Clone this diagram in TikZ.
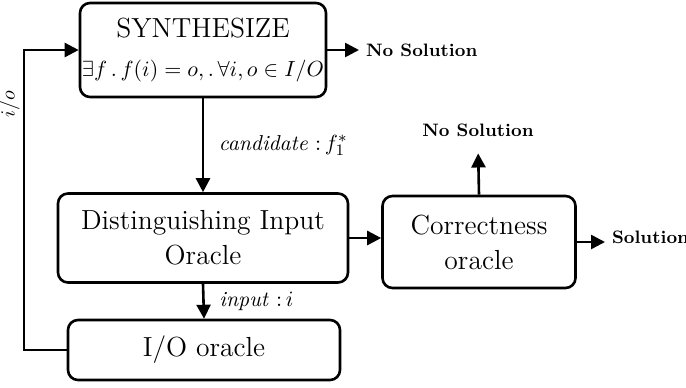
\documentclass[tikz,border=0pt]{standalone}
\usepackage{tikz}
\usetikzlibrary{arrows.meta,positioning}
\tikzstyle{every node}=[font=\fontsize{13.8}{16.5}\selectfont]
\tikzstyle{block}=[draw=black,line width=1.3pt,rounded corners=5pt,align=center]
\tikzstyle{flow}=[line width=1.3pt,-{Triangle[length=7pt,width=7pt]}]
\tikzstyle{outcome}=[font=\small\bfseries]
\tikzstyle{edgelabel}=[font=\fontsize{10.8}{13}\selectfont,anchor=west]

\begin{document}
\begin{tikzpicture}[x=0.5pt,y=-0.5pt]
    \useasboundingbox (0,0) rectangle (686,387);
    % boxes
    \node [block,minimum width=120pt,minimum height=47pt,inner xsep=1pt] (synth) at (203,50)
        {SYNTHESIZE\\[3pt] {\fontsize{10.8}{13}\selectfont $\exists f\,.\,f(i)=o,.\,\forall i,o\in I/O$}};
    \node [block,minimum width=145pt,minimum height=44.5pt] (dist) at (203,238)
        {Distinguishing Input\\[1pt] Oracle};
    \node [block,minimum width=96.5pt,minimum height=46pt] (corr) at (479,242)
        {Correctness\\[1pt] oracle};
    \node [block,minimum width=136pt,minimum height=30pt] (io) at (204,350) {I/O oracle};
    % outcomes
    \node [outcome,anchor=west] (nosolA) at (359,50) {No Solution};
    \node [outcome] (nosolB) at (478,130) {No Solution};
    \node [outcome,anchor=west] (sol) at (605,237) {Solution};
    \coordinate (back) at (24,350);
    % connectors
    \draw [flow] (synth.east) -- (nosolA.west);
    \draw [flow] (synth.south) -- (dist.north)
        node [edgelabel,midway,xshift=4pt] {\textit{candidate}\ ${:}\,f_1^*$};
    \draw [flow] (dist.east) -- (dist.east -| corr.west);
    \draw [flow,shorten >=5pt] (corr.north) -- (nosolB.south);
    \draw [flow] (corr.east) -- (corr.east -| sol.west);
    \draw [flow] (dist.south) -- (io.north)
        node [edgelabel,midway,xshift=4pt] {\textit{input}\ ${:}\,i$};
    \draw [flow] (io.west) -- (back) |- (synth.west)
        node [pos=0.41,rotate=90,above,inner sep=1.5pt,font=\normalsize] {$i/o$};
\end{tikzpicture}
\end{document}
